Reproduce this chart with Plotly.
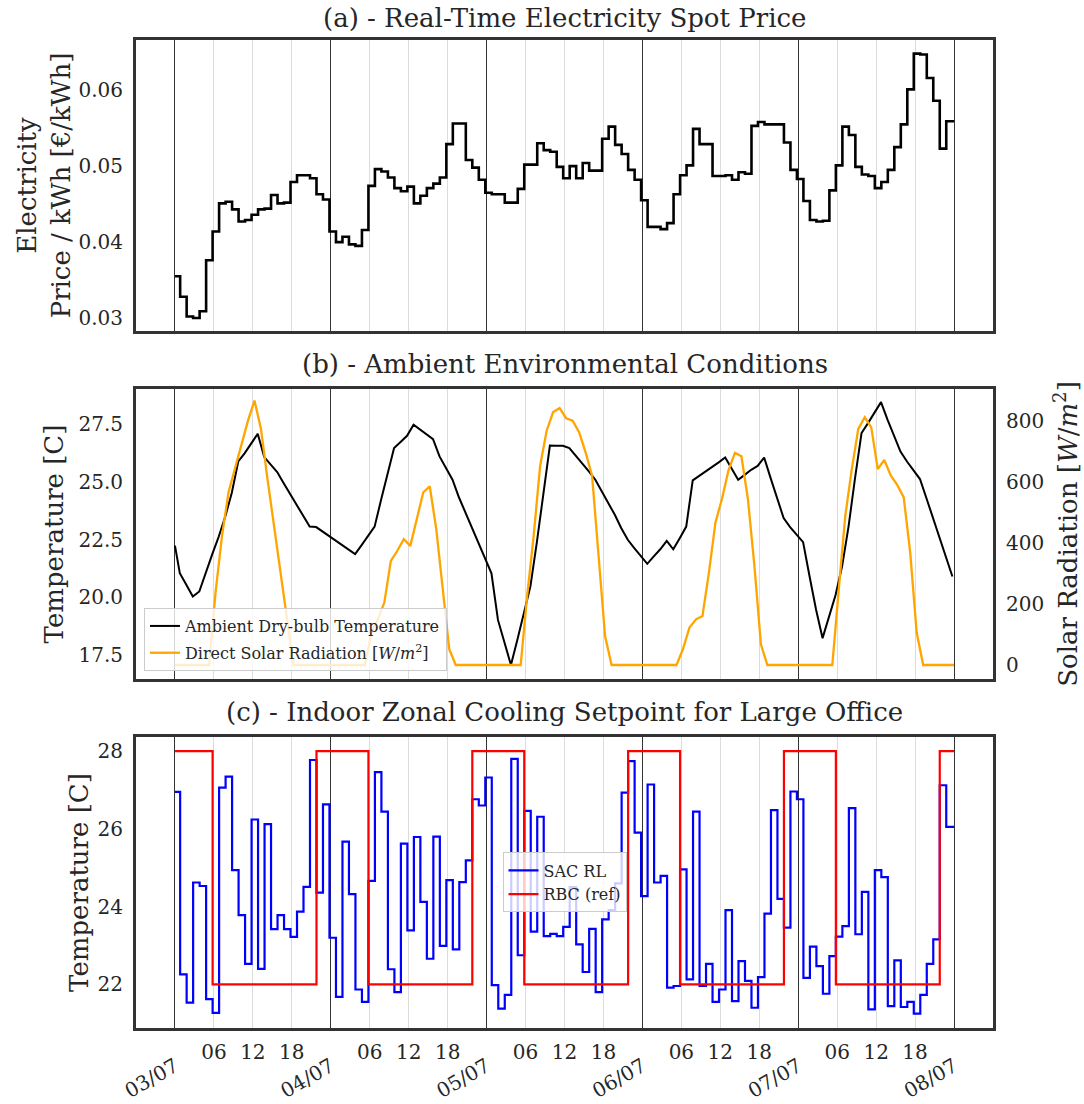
import numpy as np
import plotly.graph_objects as go

# ---------------------------------------------------------------- data
day_labels = ["03/07", "04/07", "05/07", "06/07", "07/07", "08/07"]
hour_labels = ["06", "12", "18"]

# hourly real-time electricity spot price [EUR/kWh]
spot_price = [
    # 03/07
    0.0355, 0.0328, 0.0302, 0.0300, 0.0309, 0.0376, 0.0414, 0.0451, 0.0453, 0.0443, 0.0427, 0.0429,
    0.0436, 0.0443, 0.0444, 0.0462, 0.0451, 0.0452, 0.0479, 0.0488, 0.0488, 0.0484, 0.0463, 0.0456,
    # 04/07
    0.0414, 0.0400, 0.0407, 0.0397, 0.0395, 0.0416, 0.0474, 0.0496, 0.0493, 0.0485, 0.0471, 0.0467,
    0.0473, 0.0451, 0.0461, 0.0471, 0.0477, 0.0485, 0.0529, 0.0556, 0.0556, 0.0508, 0.0498, 0.0482,
    # 05/07
    0.0465, 0.0463, 0.0463, 0.0452, 0.0452, 0.0470, 0.0502, 0.0502, 0.0530, 0.0521, 0.0519, 0.0499,
    0.0484, 0.0500, 0.0484, 0.0504, 0.0494, 0.0494, 0.0536, 0.0552, 0.0528, 0.0516, 0.0495, 0.0482,
    # 06/07
    0.0455, 0.0420, 0.0420, 0.0417, 0.0425, 0.0463, 0.0488, 0.0501, 0.0549, 0.0529, 0.0529, 0.0487,
    0.0487, 0.0488, 0.0482, 0.0492, 0.0490, 0.0553, 0.0558, 0.0555, 0.0555, 0.0555, 0.0531, 0.0495,
    # 07/07
    0.0483, 0.0454, 0.0429, 0.0427, 0.0428, 0.0468, 0.0501, 0.0552, 0.0541, 0.0499, 0.0489, 0.0487,
    0.0471, 0.0479, 0.0495, 0.0525, 0.0555, 0.0601, 0.0648, 0.0647, 0.0616, 0.0586, 0.0523, 0.0559,
]

# ambient dry-bulb temperature [C], hourly samples incl. closing value
ambient_temp = [
    22.24, 21.04, 20.54, 20.03, 20.25, 21.10, 21.87, 22.63, 23.50, 24.52, 25.88, 26.24,
    26.68, 27.08, 26.07, 25.74, 25.42, 24.94, 24.48, 24.02, 23.54, 23.06, 23.04, 22.85,
    22.65, 22.46, 22.26, 22.07, 21.87, 22.26, 22.66, 23.06, 24.22, 25.33, 26.46, 26.72,
    26.99, 27.47, 27.25, 27.05, 26.85, 26.10, 25.59, 25.09, 24.32, 23.67, 23.04, 22.39,
    21.74, 21.04, 19.02, 18.01, 17.07, 18.17, 19.32, 20.47, 22.40, 24.46, 26.57, 26.56,
    26.56, 26.46, 26.13, 25.81, 25.45, 25.09, 24.58, 24.08, 23.57, 22.99, 22.49, 22.13,
    21.77, 21.45, 21.77, 22.08, 22.44, 22.08, 22.56, 23.06, 25.06, 25.25, 25.43, 25.64,
    25.84, 26.05, 25.55, 25.09, 25.30, 25.52, 25.69, 26.05, 25.16, 24.29, 23.43, 23.04,
    22.70, 22.39, 20.90, 19.46, 18.23, 19.19, 20.10, 21.33, 23.06, 25.16, 27.11, 27.54,
    27.98, 28.45, 27.69, 26.96, 26.31, 25.88, 25.49, 25.12, 24.29, 23.43, 22.60, 21.77,
    20.90,
]

# direct solar radiation [W/m2], hourly
solar_rad = [
    0, 0, 0, 0, 0, 0, 238, 424, 567, 643, 726, 802, 868, 775, 611, 457, 293, 139, 0, 0, 0, 0, 0, 0,
    0, 0, 0, 0, 0, 0, 106, 150, 205, 342, 375, 413, 391, 479, 567, 586, 446, 249, 52, 0, 0, 0, 0, 0,
    0, 0, 0, 0, 0, 0, 227, 424, 654, 769, 830, 843, 810, 802, 764, 698, 621, 360, 95, 0, 0, 0, 0, 0,
    0, 0, 0, 0, 0, 0, 52, 123, 150, 161, 304, 468, 545, 638, 696, 685, 545, 326, 68, 0, 0, 0, 0, 0,
    0, 0, 0, 0, 0, 0, 250, 490, 643, 775, 813, 780, 643, 673, 622, 591, 550, 369, 106, 0, 0, 0, 0, 0,
]

# zone cooling setpoint chosen by the SAC agent [C], hourly
sac_setpoint = [
    26.95, 22.26, 21.53, 24.62, 24.53, 21.62, 21.27, 27.06, 27.34, 24.94, 23.78, 22.53,
    26.24, 22.40, 26.12, 23.42, 23.78, 23.42, 23.22, 23.87, 24.51, 27.77, 24.36, 26.63,
    23.20, 21.68, 25.67, 24.32, 21.87, 21.55, 24.66, 27.46, 26.44, 22.39, 21.80, 25.62,
    23.39, 25.79, 24.12, 22.66, 25.80, 22.99, 24.68, 22.90, 24.63, 25.19, 26.76, 26.60,
    27.32, 21.98, 21.38, 21.73, 27.80, 22.75, 26.46, 23.36, 26.31, 23.24, 23.30, 23.24,
    23.48, 24.50, 23.03, 22.32, 23.43, 21.80, 23.67, 23.91, 24.60, 26.93, 27.74, 25.90,
    24.27, 27.14, 24.62, 24.79, 21.92, 21.96, 24.96, 22.13, 26.44, 21.96, 22.53, 21.55,
    21.87, 23.91, 21.57, 22.60, 22.09, 21.40, 22.19, 23.82, 26.48, 24.20, 23.46, 26.96,
    26.76, 22.17, 22.97, 22.47, 21.76, 22.73, 23.23, 23.50, 26.53, 23.29, 24.38, 21.36,
    24.94, 24.76, 21.44, 22.62, 21.42, 21.55, 21.25, 21.73, 22.53, 23.16, 27.12, 26.05,
]

# rule-based reference setpoint [C], hourly
rbc_setpoint = [
    28, 28, 28, 28, 28, 28, 22, 22, 22, 22, 22, 22, 22, 22, 22, 22, 22, 22, 22, 22, 22, 22, 28, 28,
    28, 28, 28, 28, 28, 28, 22, 22, 22, 22, 22, 22, 22, 22, 22, 22, 22, 22, 22, 22, 22, 22, 28, 28,
    28, 28, 28, 28, 28, 28, 22, 22, 22, 22, 22, 22, 22, 22, 22, 22, 22, 22, 22, 22, 22, 22, 28, 28,
    28, 28, 28, 28, 28, 28, 22, 22, 22, 22, 22, 22, 22, 22, 22, 22, 22, 22, 22, 22, 22, 22, 28, 28,
    28, 28, 28, 28, 28, 28, 22, 22, 22, 22, 22, 22, 22, 22, 22, 22, 22, 22, 22, 22, 22, 22, 28, 28,
]

# ------------------------------------------------------- time stamps (h)
n_days = len(day_labels) - 1
span = 24 * n_days
hours = np.arange(span)
day_ticks = [24 * d for d in range(n_days + 1)]
hour_ticks = [24 * d + int(h) for d in range(n_days) for h in hour_labels]
hour_text = hour_labels * n_days

# step series: each value holds from 12 min before the hour
step_x = np.append(np.clip(hours - 0.2, 0, None), span)


def steps(values):
    return np.append(values, values[-1])


temp_x = np.clip(np.arange(span + 1) - 0.25, 0, None)
solar_x = np.concatenate([[0], hours + 0.25, [span]])
solar_y = np.concatenate([[solar_rad[0]], solar_rad, [solar_rad[-1]]])

# ---------------------------------------------------------------- style
FONT = "DejaVu Serif"
INK = "#262626"
FRAME = "#333333"
X_RANGE = [-6, span + 6]

fig = go.Figure()

fig.add_trace(go.Scatter(
    x=step_x, y=steps(spot_price), mode="lines", showlegend=False,
    line=dict(color="black", width=2.6, shape="hv"), xaxis="x", yaxis="y"))

fig.add_trace(go.Scatter(
    x=temp_x, y=ambient_temp, mode="lines", name="Ambient Dry-bulb Temperature",
    line=dict(color="black", width=2), xaxis="x2", yaxis="y2",
    legend="legend", legendgroup="amb"))
fig.add_trace(go.Scatter(
    x=solar_x, y=solar_y, mode="lines",
    name="Direct Solar Radiation [<i>W</i>/<i>m</i><sup>2</sup>]",
    line=dict(color="#FFA500", width=2.3), xaxis="x2", yaxis="y4",
    legend="legend", legendgroup="sol"))

fig.add_trace(go.Scatter(
    x=step_x, y=steps(sac_setpoint), mode="lines", name="SAC RL",
    line=dict(color="#0000FF", width=2.2, shape="hv"), xaxis="x3", yaxis="y3", legend="legend2"))
fig.add_trace(go.Scatter(
    x=step_x, y=steps(rbc_setpoint), mode="lines", name="RBC (ref)",
    line=dict(color="#FF0000", width=2.2, shape="hv"), xaxis="x3", yaxis="y3", legend="legend2"))

# carrier for the hour-of-day labels axis
fig.add_trace(go.Scatter(x=[], y=[], mode="lines", showlegend=False,
                         xaxis="x4", yaxis="y3", hoverinfo="skip"))


def time_axis(anchor, labels=False):
    ax = dict(
        anchor=anchor, domain=[0, 1], range=X_RANGE, automargin=False,
        tickmode="array", tickvals=day_ticks, ticktext=day_labels,
        showgrid=True, gridcolor="#333333", gridwidth=1,
        minor=dict(tickmode="array", tickvals=hour_ticks, showgrid=True,
                   gridcolor="#dcdcdc", gridwidth=1, ticks=""),
        showline=True, mirror=True, linecolor=FRAME, linewidth=3,
        zeroline=False, showticklabels=labels,
    )
    if labels:
        ax.update(tickangle=-30, ticks="outside", ticklen=16,
                  tickcolor="rgba(0,0,0,0)", tickfont=dict(size=20, color=INK))
    else:
        ax.update(ticks="")
    return ax


def value_axis(domain, rng, tickvals, ticktext, title, anchor, standoff):
    return dict(
        domain=domain, range=rng, anchor=anchor, automargin=False,
        tickmode="array", tickvals=tickvals, ticktext=ticktext,
        ticks="outside", ticklen=6, tickcolor="rgba(0,0,0,0)",
        tickfont=dict(size=20, color=INK),
        showgrid=False, zeroline=False,
        showline=True, mirror=True, linecolor=FRAME, linewidth=3,
        title=dict(text=title, font=dict(size=26, color=INK), standoff=standoff),
    )


price_ticks = [0.03, 0.04, 0.05, 0.06]
temp_ticks = [17.5, 20.0, 22.5, 25.0, 27.5]
solar_ticks = [0, 200, 400, 600, 800]
zone_ticks = [22, 24, 26, 28]

D_A = [0.7055, 1.0]
D_B = [0.3532, 0.6468]
D_C = [0.0, 0.2945]

layout = dict(
    width=1084, height=1104,
    margin=dict(l=136, r=91, t=40, b=76),
    paper_bgcolor="white", plot_bgcolor="white",
    font=dict(family=FONT, color=INK),
    xaxis=time_axis("y"),
    xaxis2=time_axis("y2"),
    xaxis3=time_axis("y3", labels=True),
    xaxis4=dict(
        overlaying="x3", anchor="y3", range=X_RANGE, automargin=False,
        tickmode="array", tickvals=hour_ticks, ticktext=hour_text,
        ticks="outside", ticklen=6, tickcolor="rgba(0,0,0,0)",
        tickfont=dict(size=20, color=INK),
        showgrid=False, showline=False, zeroline=False,
    ),
    yaxis=value_axis(D_A, [0.0283, 0.0666], price_ticks,
                     [f"{v:.2f}" for v in price_ticks],
                     "Electricity<br>Price / kWh [€/kWh]", "x", 1),
    yaxis2=value_axis(D_B, [16.46, 29.02], temp_ticks,
                      [f"{v:.1f}" for v in temp_ticks], "Temperature [C]", "x2", 8),
    yaxis4=dict(
        overlaying="y2", side="right", anchor="x2", range=[-46, 906], automargin=False,
        tickmode="array", tickvals=solar_ticks, ticktext=[str(v) for v in solar_ticks],
        ticks="outside", ticklen=8, tickcolor="rgba(0,0,0,0)",
        tickfont=dict(size=20, color=INK),
        showgrid=False, zeroline=False, showline=False,
        title=dict(text="Solar Radiation [<i>W</i>/<i>m</i><sup>2</sup>]",
                   font=dict(size=26, color=INK), standoff=15),
    ),
    yaxis3=value_axis(D_C, [20.88, 28.36], zone_ticks,
                      [str(v) for v in zone_ticks], "Temperature [C]", "x3", 2),
    legend=dict(
        x=0.0093, y=0.3613, xanchor="left", yanchor="bottom",
        bgcolor="rgba(255,255,255,0.8)", bordercolor="#cccccc", borderwidth=1,
        font=dict(size=16, color=INK), tracegroupgap=3,
    ),
    legend2=dict(
        x=0.5, y=0.1473, xanchor="center", yanchor="middle",
        bgcolor="rgba(255,255,255,0.8)", bordercolor="#cccccc", borderwidth=1,
        font=dict(size=16, color=INK),
    ),
    annotations=[
        dict(text="(a) - Real-Time Electricity Spot Price", x=0.5, y=1.0223,
             xref="paper", yref="paper", xanchor="center", yanchor="middle",
             showarrow=False, font=dict(size=26, color=INK)),
        dict(text="(b) - Ambient Environmental Conditions", x=0.5, y=0.6721,
             xref="paper", yref="paper", xanchor="center", yanchor="middle",
             showarrow=False, font=dict(size=26, color=INK)),
        dict(text="(c) - Indoor Zonal Cooling Setpoint for Large Office", x=0.5, y=0.3198,
             xref="paper", yref="paper", xanchor="center", yanchor="middle",
             showarrow=False, font=dict(size=26, color=INK)),
    ],
)

fig.update_layout(layout)
fig.write_html("out.html")
